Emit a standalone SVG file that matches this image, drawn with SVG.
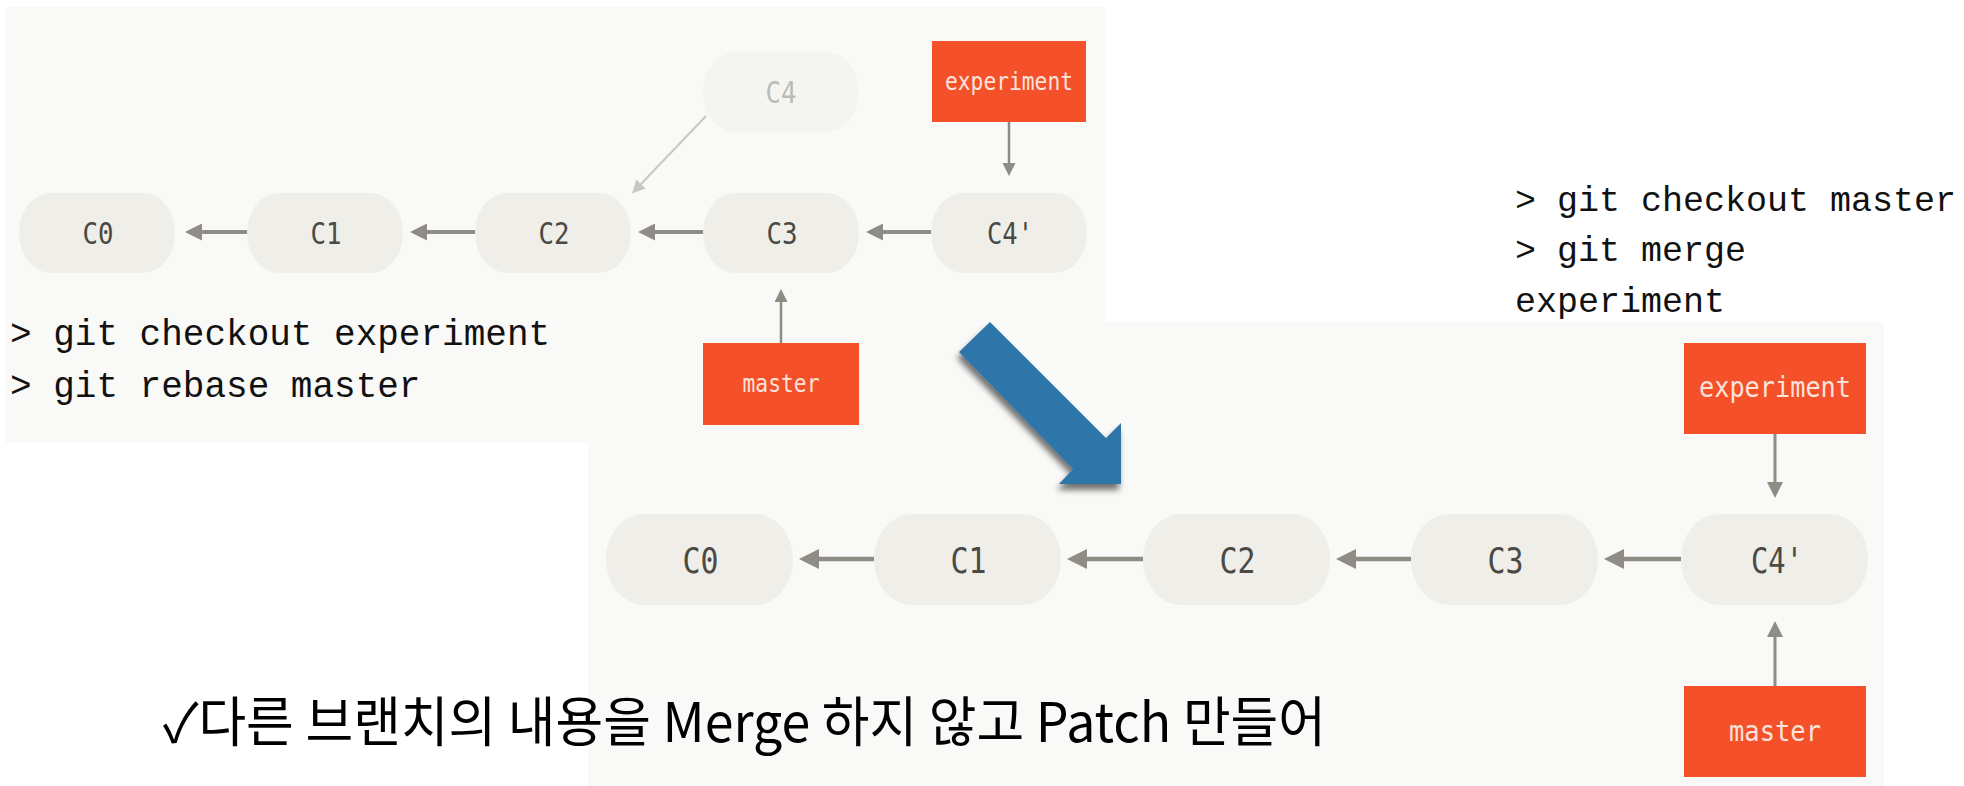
<svg xmlns="http://www.w3.org/2000/svg" width="1964" height="786" viewBox="0 0 1964 786">
  <style>
    .panel { fill: #f9f9f7; }
    .node { fill: #efeee8; }
    .node-faded { fill: #f4f4f1; }
    .nlabel { font-family: "DejaVu Sans Mono", "Liberation Mono", monospace; fill: #4a4944; text-anchor: middle; }
    .nlabel-faded { font-family: "DejaVu Sans Mono", "Liberation Mono", monospace; fill: #bdbbb5; text-anchor: middle; }
    .ref { fill: #f4502a; }
    .rlabel { font-family: "DejaVu Sans Mono", "Liberation Mono", monospace; fill: #fbe3da; text-anchor: middle; }
    .cmd { font-family: "Liberation Mono", "DejaVu Sans Mono", monospace; fill: #111111; }
    .note { font-family: "Noto Sans CJK KR", "Noto Sans", sans-serif; fill: #000000; }
    .edge { stroke: #8f8b85; fill: none; }
    .edge-faded { stroke: #c9c7c1; fill: none; }
  </style>
  <defs>
    <marker id="hTop" viewBox="0 0 10 10" refX="0" refY="5" markerUnits="userSpaceOnUse" markerWidth="24" markerHeight="17" orient="auto">
      <path d="M0,0 L10,5 L0,10 z" fill="#8f8b85"/>
    </marker>
    <marker id="hBot" viewBox="0 0 10 10" refX="0" refY="5" markerUnits="userSpaceOnUse" markerWidth="26" markerHeight="20" orient="auto">
      <path d="M0,0 L10,5 L0,10 z" fill="#8f8b85"/>
    </marker>
    <marker id="vTop" viewBox="0 0 10 10" refX="0" refY="5" markerUnits="userSpaceOnUse" markerWidth="30" markerHeight="13" orient="auto">
      <path d="M0,0 L10,5 L0,10 z" fill="#8f8b85"/>
    </marker>
    <marker id="vBot" viewBox="0 0 10 10" refX="0" refY="5" markerUnits="userSpaceOnUse" markerWidth="32" markerHeight="16" orient="auto">
      <path d="M0,0 L10,5 L0,10 z" fill="#8f8b85"/>
    </marker>
    <marker id="faded" viewBox="0 0 10 10" refX="0" refY="5" markerUnits="userSpaceOnUse" markerWidth="28" markerHeight="13" orient="auto">
      <path d="M0,0 L10,5 L0,10 z" fill="#c9c7c1"/>
    </marker>
    <filter id="shadow" x="-20%" y="-20%" width="140%" height="150%">
      <feGaussianBlur in="SourceAlpha" stdDeviation="3"/>
      <feOffset dx="-2" dy="6" result="b"/>
      <feComponentTransfer><feFuncA type="linear" slope="0.55"/></feComponentTransfer>
      <feMerge><feMergeNode/><feMergeNode in="SourceGraphic"/></feMerge>
    </filter>
  </defs>

  <rect width="1964" height="786" fill="#ffffff"/>

  <!-- panels -->
  <rect class="panel" x="6" y="7" width="1099" height="436"/>
  <rect class="panel" x="588" y="322" width="1296" height="464"/>

  <!-- top diagram -->
  <g id="top-C4">
    <rect class="node-faded" x="703" y="52" width="156" height="80" rx="32" ry="40"/>
    <text class="nlabel-faded" x="781" y="103" font-size="31" textLength="31" lengthAdjust="spacingAndGlyphs">C4</text>
  </g>
  <g id="top-experiment">
    <rect class="ref" x="932" y="41" width="154" height="81"/>
    <text class="rlabel" x="1009" y="90" font-size="24" textLength="128" lengthAdjust="spacingAndGlyphs">experiment</text>
  </g>
  <g id="top-C0">
    <rect class="node" x="19" y="193" width="156" height="80" rx="32" ry="40"/>
    <text class="nlabel" x="98" y="244" font-size="31" textLength="31" lengthAdjust="spacingAndGlyphs">C0</text>
  </g>
  <g id="top-C1">
    <rect class="node" x="247" y="193" width="156" height="80" rx="32" ry="40"/>
    <text class="nlabel" x="326" y="244" font-size="31" textLength="31" lengthAdjust="spacingAndGlyphs">C1</text>
  </g>
  <g id="top-C2">
    <rect class="node" x="475" y="193" width="156" height="80" rx="32" ry="40"/>
    <text class="nlabel" x="554" y="244" font-size="31" textLength="31" lengthAdjust="spacingAndGlyphs">C2</text>
  </g>
  <g id="top-C3">
    <rect class="node" x="703" y="193" width="156" height="80" rx="32" ry="40"/>
    <text class="nlabel" x="782" y="244" font-size="31" textLength="31" lengthAdjust="spacingAndGlyphs">C3</text>
  </g>
  <g id="top-C4p">
    <rect class="node" x="931" y="193" width="156" height="80" rx="32" ry="40"/>
    <text class="nlabel" x="1010" y="244" font-size="31" textLength="46" lengthAdjust="spacingAndGlyphs">C4'</text>
  </g>
  <g id="top-master">
    <rect class="ref" x="703" y="343" width="156" height="82"/>
    <text class="rlabel" x="781" y="392" font-size="24" textLength="77" lengthAdjust="spacingAndGlyphs">master</text>
  </g>

  <g id="top-connectors">
    <line class="edge" x1="247" y1="232" x2="202" y2="232" stroke-width="4" marker-end="url(#hTop)"/>
    <line class="edge" x1="475" y1="232" x2="427" y2="232" stroke-width="4" marker-end="url(#hTop)"/>
    <line class="edge" x1="703" y1="232" x2="655" y2="232" stroke-width="4" marker-end="url(#hTop)"/>
    <line class="edge" x1="931" y1="232" x2="883" y2="232" stroke-width="4" marker-end="url(#hTop)"/>
    <line class="edge" x1="1009" y1="122" x2="1009" y2="163" stroke-width="2.5" marker-end="url(#vTop)"/>
    <line class="edge" x1="781" y1="343" x2="781" y2="302" stroke-width="2.5" marker-end="url(#vTop)"/>
    <line class="edge-faded" x1="706" y1="116" x2="641" y2="184" stroke-width="2" marker-end="url(#faded)"/>
  </g>

  <text class="cmd" x="10" y="345" font-size="36">&gt; git checkout experiment</text>
  <text class="cmd" x="10" y="397" font-size="36">&gt; git rebase master</text>

  <!-- right commands -->
  <text class="cmd" x="1515" y="211" font-size="35">&gt; git checkout master</text>
  <text class="cmd" x="1515" y="261" font-size="35">&gt; git merge</text>
  <text class="cmd" x="1515" y="312" font-size="35">experiment</text>

  <!-- bottom diagram -->
  <g id="bot-experiment">
    <rect class="ref" x="1684" y="343" width="182" height="91"/>
    <text class="rlabel" x="1775" y="397" font-size="28" textLength="152" lengthAdjust="spacingAndGlyphs">experiment</text>
  </g>
  <g id="bot-C0">
    <rect class="node" x="606" y="514" width="187" height="91" rx="38" ry="45"/>
    <text class="nlabel" x="700.5" y="573" font-size="35" textLength="36" lengthAdjust="spacingAndGlyphs">C0</text>
  </g>
  <g id="bot-C1">
    <rect class="node" x="874" y="514" width="187" height="91" rx="38" ry="45"/>
    <text class="nlabel" x="968.5" y="573" font-size="35" textLength="36" lengthAdjust="spacingAndGlyphs">C1</text>
  </g>
  <g id="bot-C2">
    <rect class="node" x="1143" y="514" width="187" height="91" rx="38" ry="45"/>
    <text class="nlabel" x="1237.5" y="573" font-size="35" textLength="36" lengthAdjust="spacingAndGlyphs">C2</text>
  </g>
  <g id="bot-C3">
    <rect class="node" x="1411" y="514" width="187" height="91" rx="38" ry="45"/>
    <text class="nlabel" x="1505.5" y="573" font-size="35" textLength="36" lengthAdjust="spacingAndGlyphs">C3</text>
  </g>
  <g id="bot-C4p">
    <rect class="node" x="1681" y="514" width="187" height="91" rx="38" ry="45"/>
    <text class="nlabel" x="1777" y="573" font-size="35" textLength="52" lengthAdjust="spacingAndGlyphs">C4'</text>
  </g>
  <g id="bot-master">
    <rect class="ref" x="1684" y="686" width="182" height="91"/>
    <text class="rlabel" x="1775" y="741" font-size="28" textLength="92" lengthAdjust="spacingAndGlyphs">master</text>
  </g>

  <g id="bottom-connectors">
    <line class="edge" x1="874" y1="559" x2="819" y2="559" stroke-width="4.5" marker-end="url(#hBot)"/>
    <line class="edge" x1="1143" y1="559" x2="1087" y2="559" stroke-width="4.5" marker-end="url(#hBot)"/>
    <line class="edge" x1="1411" y1="559" x2="1356" y2="559" stroke-width="4.5" marker-end="url(#hBot)"/>
    <line class="edge" x1="1681" y1="559" x2="1624" y2="559" stroke-width="4.5" marker-end="url(#hBot)"/>
    <line class="edge" x1="1775" y1="434" x2="1775" y2="482" stroke-width="3" marker-end="url(#vBot)"/>
    <line class="edge" x1="1775" y1="686" x2="1775" y2="637" stroke-width="3" marker-end="url(#vBot)"/>
  </g>

  <!-- big blue transition arrow -->
  <g id="transition-arrow" filter="url(#shadow)">
    <polygon points="990,322 1106,438 1121,423 1121,484 1059,484 1073,469 959,352" fill="#2f76aa"/>
  </g>

  <text class="note" x="163" y="742" font-size="54" textLength="1163" lengthAdjust="spacingAndGlyphs">✓다른 브랜치의 내용을 Merge 하지 않고 Patch 만들어</text>
</svg>
